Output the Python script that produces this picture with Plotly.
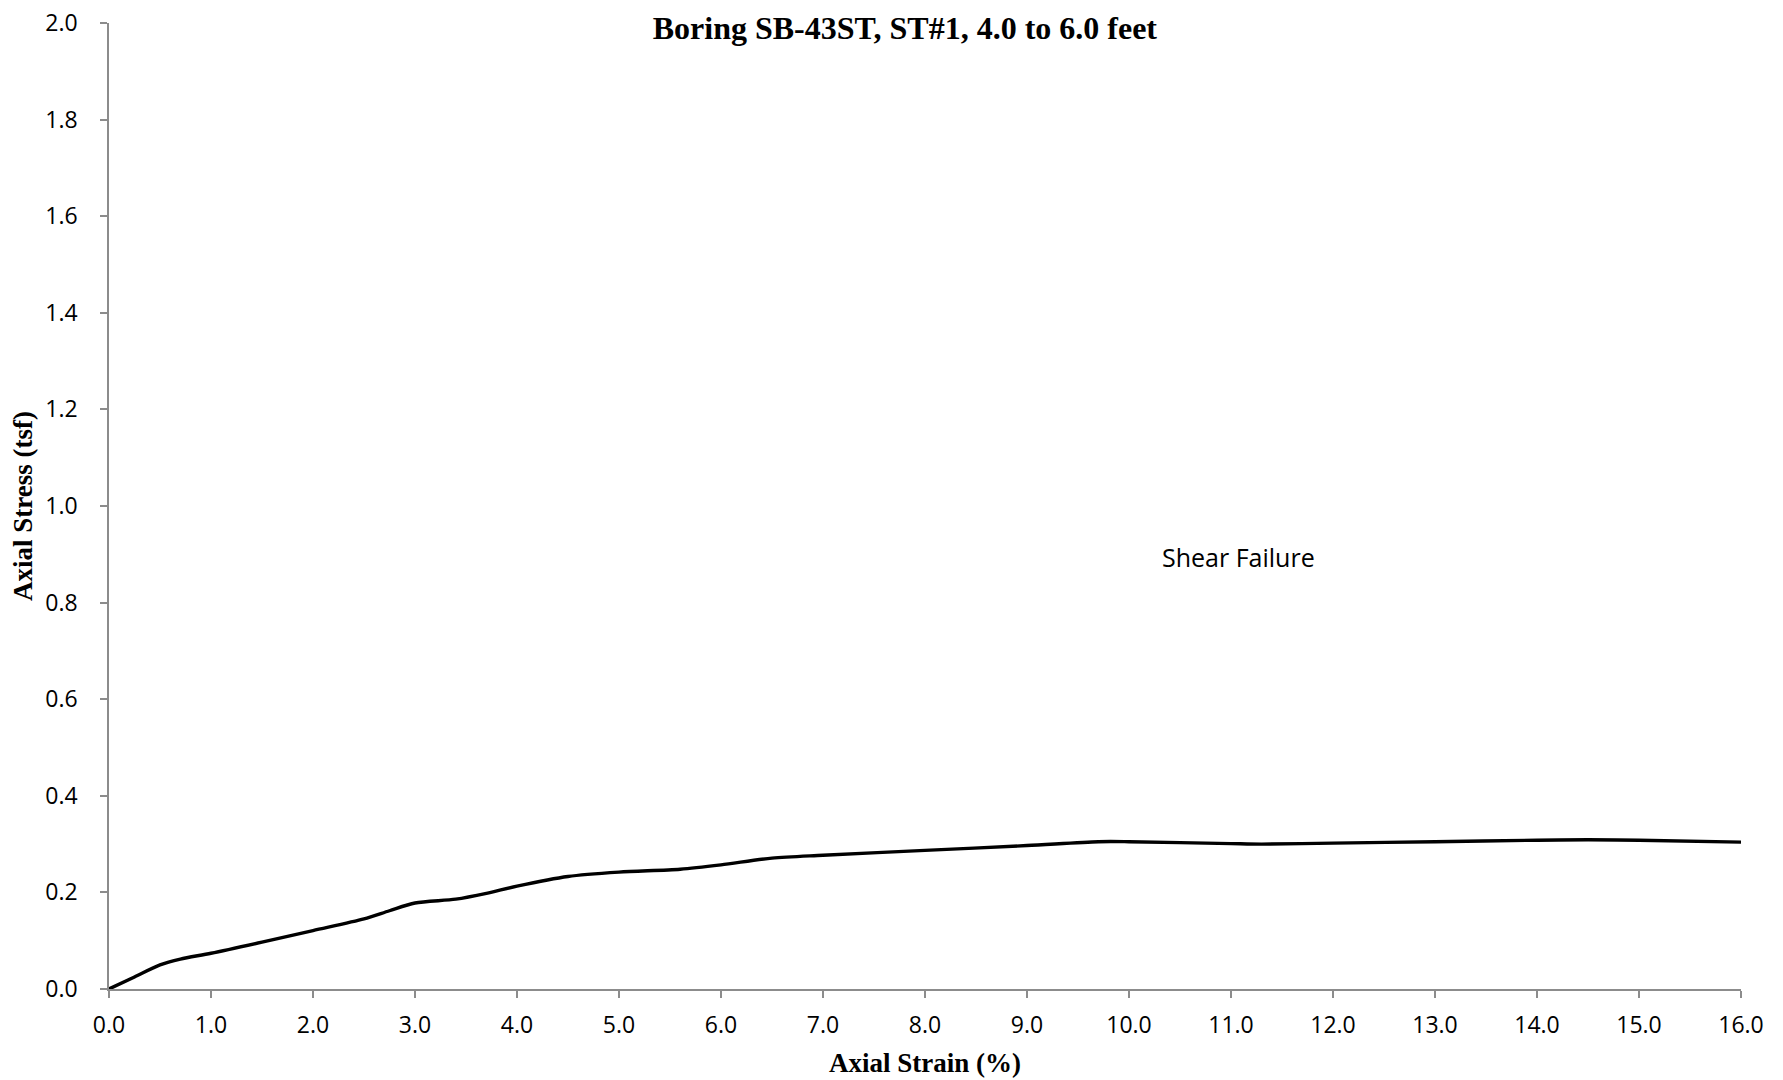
import plotly.graph_objects as go

strain = [0.0, 0.25, 0.5, 0.7, 1.0, 1.5, 2.0, 2.5, 2.75, 3.0, 3.4, 3.7, 4.0, 4.5, 5.0, 5.6, 6.0, 6.5, 7.0, 8.0, 9.0, 9.7, 10.0, 11.0, 11.3, 12.0, 13.0, 14.0, 14.5, 15.0, 16.0]
stress = [0.0, 0.025, 0.05, 0.062, 0.074, 0.097, 0.121, 0.145, 0.162, 0.178, 0.186, 0.198, 0.213, 0.233, 0.242, 0.248, 0.257, 0.271, 0.277, 0.287, 0.297, 0.305, 0.305, 0.301, 0.300, 0.302, 0.305, 0.308, 0.309, 0.308, 0.304]

x_ticks = [i for i in range(0, 17)]
x_ticklabels = [f"{v:.1f}" for v in x_ticks]
y_ticks = [i / 10 for i in range(0, 21, 2)]
y_ticklabels = [f"{v:.1f}" for v in y_ticks]

title_text = "Boring SB-43ST, ST#1, 4.0 to 6.0 feet"
x_title = "Axial Strain (%)"
y_title = "Axial Stress (tsf)"
note_text = "Shear Failure"
note_x, note_y = 11.07, 0.894

fig = go.Figure()
fig.add_trace(go.Scatter(x=strain, y=stress, mode="lines",
                         line=dict(color="black", width=3.4, shape="spline", smoothing=0.8),
                         showlegend=False, hoverinfo="skip"))

axis_common = dict(showgrid=False, zeroline=False, showline=True, linecolor="#8c8c8c", linewidth=1.5,
                   ticks="outside", tickcolor="#8c8c8c", ticklen=7, tickwidth=1.5,
                   automargin=False, ticklabeloverflow="allow",
                   tickfont=dict(family="Open Sans, sans-serif", size=23, color="black"))

fig.update_layout(
    width=1783, height=1080,
    paper_bgcolor="white", plot_bgcolor="white",
    margin=dict(l=101, r=50, t=15, b=99, autoexpand=False),
    title=dict(text=f"<b>{title_text}</b>", x=0.503, xanchor="center", y=0.982, yanchor="middle",
               automargin=False,
               font=dict(family="Liberation Serif, Times New Roman, serif", size=32, color="black")),
    xaxis=dict(range=[0, 16], tickvals=x_ticks, ticktext=x_ticklabels, ticklabelstandoff=8,
               title=dict(text=f"<b>{x_title}</b>", standoff=14,
                          font=dict(family="Liberation Serif, serif", size=27, color="black")),
               **axis_common),
    yaxis=dict(range=[0, 2.0], tickvals=y_ticks, ticktext=y_ticklabels, ticklabelstandoff=18,
               title=dict(text=f"<b>{y_title}</b>", standoff=10,
                          font=dict(family="Liberation Serif, serif", size=27, color="black")),
               **axis_common),
    annotations=[dict(x=note_x, y=note_y, xref="x", yref="y", text=note_text, showarrow=False,
                      font=dict(family="Open Sans, sans-serif", size=25, color="black"))],
)

fig.write_html("out.html")
